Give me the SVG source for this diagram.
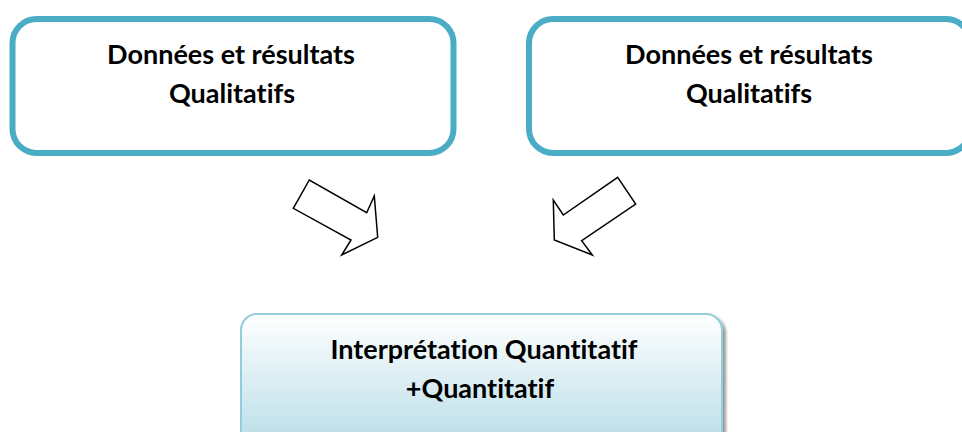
<svg xmlns="http://www.w3.org/2000/svg" width="962" height="432" viewBox="0 0 962 432">
<defs>
<linearGradient id="g" x1="0" y1="0" x2="0" y2="1">
<stop offset="0" stop-color="#ffffff"/>
<stop offset="1" stop-color="#b4dbe6"/>
</linearGradient>
<filter id="sh" x="-5%" y="-5%" width="115%" height="115%">
<feGaussianBlur in="SourceAlpha" stdDeviation="1.5"/>
<feOffset dx="3" dy="3"/>
<feComponentTransfer><feFuncA type="linear" slope="0.4"/></feComponentTransfer>
<feMerge><feMergeNode/><feMergeNode in="SourceGraphic"/></feMerge>
</filter>
</defs>
<style>
.box{fill:#ffffff;stroke:#4bacc6;stroke-width:6}
.t{font-family:Lato,"Liberation Sans",sans-serif;font-weight:bold;font-size:27px;fill:#000;text-anchor:middle;font-variant-ligatures:none;font-feature-settings:"liga" 0,"clig" 0}
.arr{fill:#ffffff;stroke:#000;stroke-width:1.5;stroke-linejoin:miter}
</style>
<rect width="962" height="432" fill="#ffffff"/>
<g id="node-left">
<rect class="box" x="12.5" y="19" width="441" height="134" rx="24"/>
<text class="t" x="231" y="64">Données et résultats</text>
<text class="t" x="232" y="103">Qualitatifs</text>
</g>
<g id="node-right">
<rect class="box" x="529" y="19" width="441" height="134" rx="24"/>
<text class="t" x="749" y="64">Données et résultats</text>
<text class="t" x="749" y="103">Qualitatifs</text>
</g>
<g id="connectors">
<polygon class="arr" points="309.3,180 293.3,208.3 351,240 341.7,255 377.7,237.3 374.3,196 366.7,212.7"/>
<polygon class="arr" points="617.7,177.3 635.7,204 581.7,240.7 592.3,255 554.3,240 553.3,200 563.3,215"/>
</g>
<g id="node-bottom">
<rect x="241" y="314" width="481" height="140" rx="16" fill="url(#g)" stroke="#92cddc" stroke-width="2" filter="url(#sh)"/>
<text class="t" x="484" y="359">Interprétation Quantitatif</text>
<text class="t" x="480" y="398">+Quantitatif</text>
</g>
</svg>
